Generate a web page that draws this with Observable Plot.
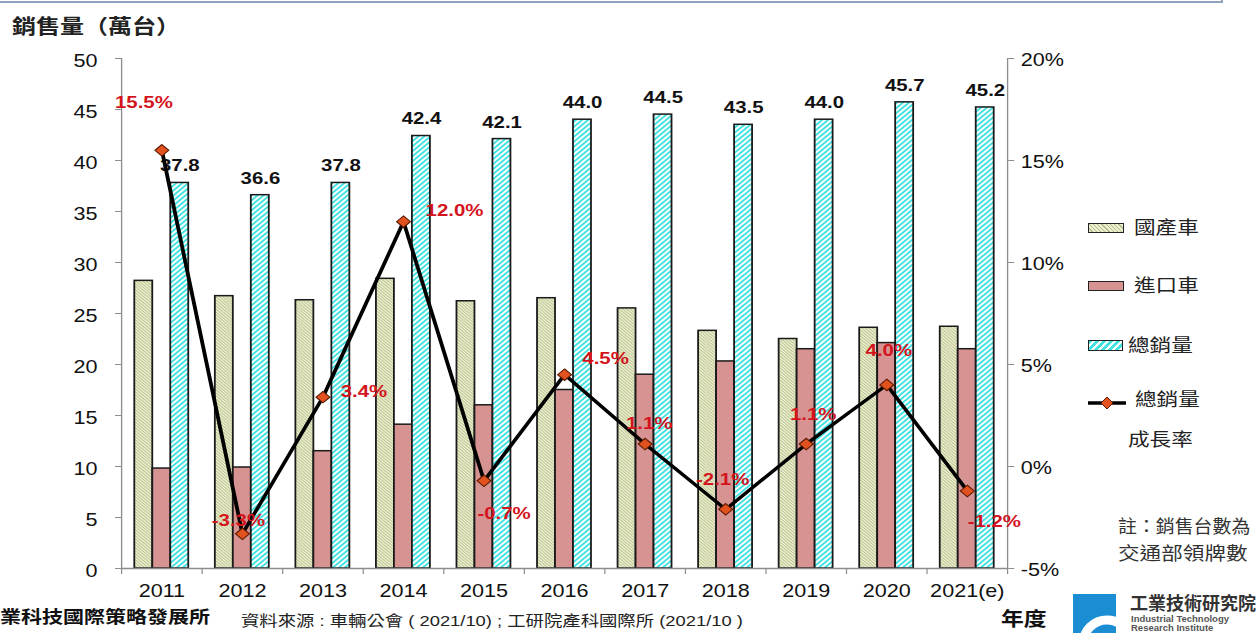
<!DOCTYPE html>
<html>
<head>
<meta charset="utf-8">
<script src="https://cdn.jsdelivr.net/npm/d3@7"></script>
<script src="https://cdn.jsdelivr.net/npm/@observablehq/plot@0.6"></script>
<style>
  html, body { margin: 0; padding: 0; background: #fff; }
  body { width: 1259px; height: 633px; overflow: hidden; font-family: "Liberation Sans", Arial, "Noto Sans CJK TC", sans-serif; color: #222; }
  #wrap { position: relative; width: 1259px; height: 633px; overflow: hidden; }
  #chart { position: absolute; left: 0; top: 0; }
  .t { position: absolute; white-space: nowrap; transform: scaleX(1.2); transform-origin: 0 50%; line-height: 24px; height: 24px; }
  .sw { position: absolute; box-sizing: border-box; border: 1.5px solid #222; }
  #frame { position: absolute; left: 0; top: 0; width: 1221px; height: 1px; border-bottom: 2px solid #8ea3c2; border-right: 2px solid #8ea3c2; }
</style>
</head>
<body>
<svg width="0" height="0" style="position:absolute">
  <defs>
    <pattern id="hatchDom" patternUnits="userSpaceOnUse" width="3" height="3">
      <rect width="3" height="3" fill="#edf1cf"></rect>
      <path d="M0,0L3,3M-1,2L1,4M2,-1L4,1" stroke="#b3b98a" stroke-width="0.8"></path>
    </pattern>
    <pattern id="hatchTot" patternUnits="userSpaceOnUse" width="5" height="5">
      <rect width="5" height="5" fill="#ffffff"></rect>
      <path d="M0,5L5,0M-1,1L1,-1M4,6L6,4" stroke="#45e2e2" stroke-width="1.8"></path>
    </pattern>
  </defs>
</svg>
<div id="wrap">
  <div id="frame"></div>
  <div id="chart"></div>

  <div class="t" style="left:12px; top:15px; font-size:20px; font-weight:bold; color:#222;">銷售量（萬台）</div>

  <!-- legend -->
  <div class="sw" style="left:1088px; top:223px; width:36px; height:10px; background:repeating-linear-gradient(45deg,#edf1cf 0 2px,#b3b98a 2px 3px);"></div>
  <div class="t" style="left:1134px; top:216px; font-size:18px;">國產車</div>
  <div class="sw" style="left:1088px; top:281px; width:36px; height:10px; background:#d69391;"></div>
  <div class="t" style="left:1134px; top:274px; font-size:18px;">進口車</div>
  <div class="sw" style="left:1088px; top:340px; width:35px; height:11px; background:repeating-linear-gradient(-45deg,#fff 0 2.5px,#45e2e2 2.5px 5px);"></div>
  <div class="t" style="left:1128px; top:334px; font-size:18px;">總銷量</div>
  <svg style="position:absolute; left:1086px; top:394px;" width="42" height="18">
    <line x1="2" y1="9" x2="40" y2="9" stroke="#000" stroke-width="3.5"></line>
    <path d="M21,3L27,9L21,15L15,9Z" fill="#e2521f" stroke="#5a1a00" stroke-width="1"></path>
  </svg>
  <div class="t" style="left:1135px; top:388px; font-size:18px;">總銷量</div>
  <div class="t" style="left:1128px; top:428px; font-size:18px;">成長率</div>

  <!-- notes -->
  <div class="t" style="left:1118px; top:515px; font-size:18px; color:#333; transform:scaleX(1.05);">註：銷售台數為</div>
  <div class="t" style="left:1118px; top:542px; font-size:18px; color:#333;">交通部領牌數</div>

  <div class="t" style="left:1001px; top:608px; font-size:19px; font-weight:bold; color:#111;">年度</div>
  <div class="t" style="left:0px; top:605px; font-size:17.5px; font-weight:bold; color:#111;">業科技國際策略發展所</div>
  <div class="t" style="left:241px; top:609px; font-size:15.3px; color:#222;">資料來源 : 車輛公會 ( 2021/10) ; 工研院產科國際所 (2021/10 )</div>

  <!-- logo -->
  <svg style="position:absolute; left:1073px; top:594px;" width="43" height="39">
    <rect width="43" height="39" fill="#1b8dd3"></rect>
    <circle cx="34" cy="50" r="24" fill="none" stroke="#fff" stroke-width="9"></circle>
  </svg>
  <div style="position:absolute; left:1130px; top:593px; font-size:18px; font-weight:bold; color:#333; white-space:nowrap; line-height:22px;">工業技術研究院</div>
  <div style="position:absolute; left:1131px; top:614px; font-size:9.5px; font-weight:bold; color:#555; white-space:nowrap; line-height:10px;">Industrial Technology</div>
  <div style="position:absolute; left:1131px; top:623px; font-size:9.5px; font-weight:bold; color:#555; white-space:nowrap; line-height:10px;">Research Institute</div>
</div>

<script>
// ---- data ----
const years = ["2011", "2012", "2013", "2014", "2015", "2016", "2017", "2018", "2019", "2020", "2021(e)"];
const domestic = [28.2, 26.7, 26.3, 28.4, 26.2, 26.5, 25.5, 23.3, 22.5, 23.6, 23.7];   // 國產車
const imported = [9.8, 9.9, 11.5, 14.1, 16.0, 17.5, 19.0, 20.3, 21.5, 22.1, 21.5];     // 進口車
const total = [37.8, 36.6, 37.8, 42.4, 42.1, 44.0, 44.5, 43.5, 44.0, 45.7, 45.2];      // 總銷量
const growth = [15.5, -3.3, 3.4, 12.0, -0.7, 4.5, 1.1, -2.1, 1.1, 4.0, -1.2];          // 總銷量成長率 (%)
const leftTicks = [0, 5, 10, 15, 20, 25, 30, 35, 40, 45, 50];
const rightTicks = [-5, 0, 5, 10, 15, 20];

// ---- layout (the original slide is stretched horizontally) ----
const S = 1.2;
const W = 1259, H = 633;
const IW = W / S;
const mL = 121 / S, mR = 252 / S, mT = 58, mB = 65;
const pad = 0.33;
const step = (IW - mL - mR) / years.length;
const third = step * (1 - pad) / 3;

// growth-label offsets (reference px), one per year
const pctOffsets = [[-18, -48], [-4, -13], [41, -6], [51, -11], [20, 33], [41, -16], [4, -21], [-3, -30], [7, -30], [2, -34], [27, 31]];

const rows = years.map((year, i) => ({year, domestic: domestic[i], imported: imported[i], total: total[i], growth: growth[i]}));
// right axis (-5%..20%) mapped onto the left axis domain (0..50)
const pctToY = p => (p + 5) * 2;

const axisGray = "#8c8c8c";
const red = "#d4141c";

const chart = Plot.plot({
  width: IW,
  height: H,
  marginLeft: mL,
  marginRight: mR,
  marginTop: mT,
  marginBottom: mB,
  style: {fontFamily: '"Liberation Sans", Arial, sans-serif', fontSize: "18px", color: "#111", background: "transparent", overflow: "visible"},
  x: {type: "band", domain: years, paddingInner: pad, paddingOuter: pad / 2, round: false},
  y: {domain: [0, 50]},
  marks: [
    Plot.barY(rows, {x: "year", y: "domestic", fill: "url(#hatchDom)", stroke: "#1a1a1a", strokeWidth: 1.5, insetRight: 2 * third}),
    Plot.barY(rows, {x: "year", y: "imported", fill: "#d69391", stroke: "#1a1a1a", strokeWidth: 1.5, insetLeft: third, insetRight: third}),
    Plot.barY(rows, {x: "year", y: "total", fill: "url(#hatchTot)", stroke: "#1a1a1a", strokeWidth: 1.5, insetLeft: 2 * third}),

    Plot.ruleY([0], {stroke: axisGray, strokeWidth: 1.3}),
    Plot.ruleX([years[0]], {y1: 0, y2: 50, dx: -step / 2, stroke: axisGray, strokeWidth: 1.1}),
    Plot.ruleX([years[years.length - 1]], {y1: 0, y2: 50, dx: step / 2, stroke: axisGray, strokeWidth: 1.1}),

    // x axis: ticks at category boundaries, labels at centers
    Plot.axisX(years, {anchor: "bottom", tickSize: 6, tickFormat: () => "", dx: -step / 2, stroke: axisGray, label: null}),
    Plot.axisX([years[years.length - 1]], {anchor: "bottom", tickSize: 6, tickFormat: () => "", dx: step / 2, stroke: axisGray, label: null}),
    Plot.axisX(years, {anchor: "bottom", tickSize: 0, tickPadding: 16, fontSize: 18, fill: "#111", label: null}),

    // left axis
    Plot.axisY(leftTicks, {anchor: "left", tickSize: 5, tickFormat: () => "", stroke: axisGray, label: null}),
    Plot.axisY(leftTicks, {anchor: "left", tickSize: 0, tickPadding: 20, dy: 3, fontSize: 18, fill: "#111", label: null}),

    // right axis (percent)
    Plot.axisY(rightTicks.map(pctToY), {anchor: "right", tickSize: 5, tickFormat: () => "", stroke: axisGray, label: null}),
    Plot.axisY(rightTicks.map(pctToY), {anchor: "right", tickSize: 0, tickPadding: 11, dy: 2, fontSize: 18, fill: "#111", label: null,
      tickFormat: v => `${Math.round(v / 2 - 5)}%`}),

    // total labels (over the 總銷量 bar)
    Plot.text(rows, {x: "year", y: "total", text: d => d.total.toFixed(1), dx: third, dy: -17, fontSize: 17, fontWeight: "bold", fill: "#111"}),

    // growth line
    Plot.line(rows, {x: "year", y: d => pctToY(d.growth), stroke: "#000", strokeWidth: 3.2}),
    Plot.dot(rows, {x: "year", y: d => pctToY(d.growth), symbol: "diamond2", r: 5.2, fill: "#e2521f", stroke: "#5a1a00", strokeWidth: 1}),

    // growth labels
    ...rows.map((r, i) => Plot.text([r], {x: "year", y: d => pctToY(d.growth), text: d => d.growth.toFixed(1) + "%",
      dx: pctOffsets[i][0] / S, dy: pctOffsets[i][1], fontSize: 17, fontWeight: "bold", fill: red}))
  ]
});

chart.setAttribute("width", W);
chart.setAttribute("height", H);
chart.setAttribute("preserveAspectRatio", "none");
chart.style.width = W + "px";
chart.style.height = H + "px";
chart.style.maxWidth = "none";
document.getElementById("chart").appendChild(chart);
</script>
</body>
</html>
